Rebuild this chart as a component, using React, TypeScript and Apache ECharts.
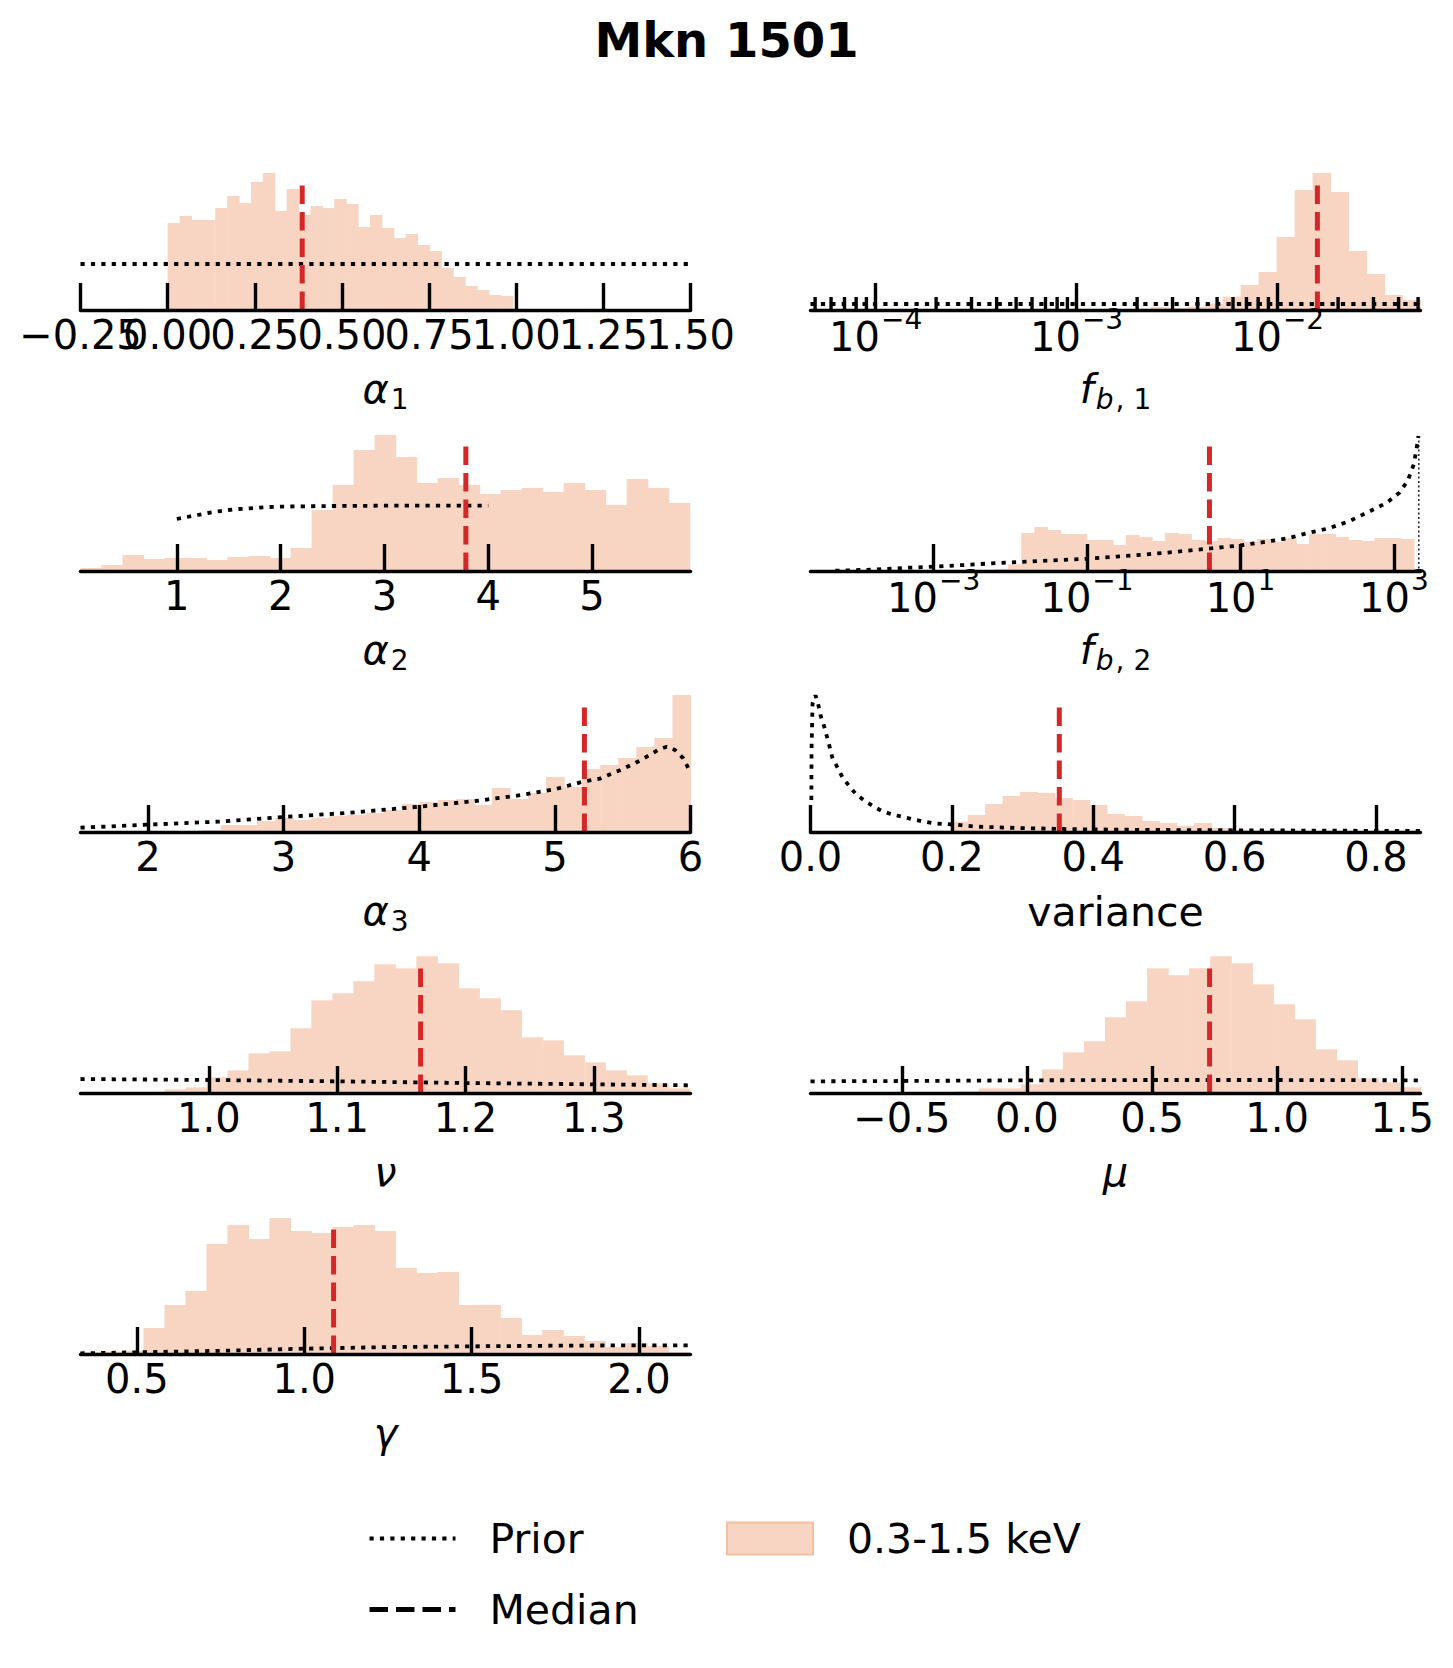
import React, { useEffect, useRef } from "react";
import * as echarts from "echarts";

const FONT = "DejaVu Sans";
const HIST_FILL = "#f8d5c3";
const HIST_EDGE = "#f3bf9f";
const MEDIAN_RED = "#d62728";

// ---------- alpha_1 ----------
const A1_RANGE = [-0.25, 1.5];
const A1_TICKS = [-0.25, 0, 0.25, 0.5, 0.75, 1.0, 1.25, 1.5];
// same tick labels, listed so that no two neighbouring entries overlap
// (ECharts would otherwise drop a label next to the first / last one)
const A1_LABELS = [0.5, -0.25, 0, 0.25, 0.75, 1.25, 1.0, 1.5];
const A1_BIN_RANGE = [0.0, 0.99];
const A1_COUNTS = [261, 282, 270, 270, 306, 342, 321, 384, 411, 297, 363, 285, 312, 306, 333, 318, 249, 285, 246, 216, 228, 195, 177, 126, 99, 72, 60, 45, 42];
const A1_PRIOR = [[-0.25, 138], [1.5, 138]];
const A1_MEDIAN = 0.386;

// ---------- f_b,1 (log10 exponents) ----------
const FB1_RANGE_EXP = [-4.324, -1.289];
const FB1_TICKS = [1e-4, 1e-3, 1e-2];
const FB1_MINOR = [5e-5, 6e-5, 7e-5, 8e-5, 9e-5, 2e-4, 3e-4, 4e-4, 5e-4, 6e-4, 7e-4, 8e-4, 9e-4, 2e-3, 3e-3, 4e-3, 5e-3, 6e-3, 7e-3, 8e-3, 9e-3, 2e-2, 3e-2, 4e-2, 5e-2];
const FB1_BIN_RANGE_EXP = [-2.721, -1.289];
const FB1_COUNTS = [3, 9, 6, 10, 19, 40, 75, 114, 219, 360, 411, 354, 177, 108, 45, 30];
const FB1_PRIOR_EXP = [[-4.324, 18], [-1.289, 18]];
const FB1_MEDIAN_EXP = -1.802;

// ---------- alpha_2 ----------
const A2_RANGE = [0.072, 5.948];
const A2_TICKS = [1, 2, 3, 4, 5];
const A2_BIN_RANGE = [0.072, 5.94];
const A2_COUNTS = [9, 18, 48, 36, 39, 39, 33, 42, 45, 39, 69, 183, 258, 363, 408, 342, 264, 279, 258, 231, 243, 249, 237, 264, 243, 198, 276, 249, 204];
const A2_PRIOR = [[1.0, 156], [1.1, 162], [1.2, 168], [1.3, 174], [1.4, 179], [1.5, 183], [1.6, 186], [1.7, 188], [1.8, 190], [1.9, 192], [2.0, 193], [2.2, 194], [2.5, 195], [3.0, 196], [3.5, 196], [4.0, 196]];
const A2_MEDIAN = 3.784;

// ---------- f_b,2 (log10 exponents) ----------
const FB2_RANGE_EXP = [-4.605, 3.346];
const FB2_TICKS = [1e-3, 1e-1, 1e1, 1e3];
const FB2_BIN_RANGE_EXP = [-2.2, 3.259];
const FB2_COUNTS = [6, 20, 114, 132, 123, 111, 111, 93, 93, 78, 108, 102, 90, 114, 111, 93, 90, 99, 96, 87, 96, 87, 99, 81, 111, 111, 102, 93, 90, 99, 99, 96];
const FB2_PRIOR_EXP = [[-4.281, 1], [-3.795, 4], [-3.308, 10], [-3.0, 13], [-2.605, 18], [-2.173, 24], [-1.632, 30], [-0.995, 37], [-0.551, 44], [-0.011, 54], [0.53, 66], [1.005, 77], [1.341, 88], [1.611, 98], [1.881, 114], [2.151, 128], [2.422, 150], [2.692, 180], [2.908, 205], [3.07, 235], [3.178, 270], [3.259, 320], [3.297, 370], [3.319, 405]];
const FB2_PRIOR_EDGE_EXP = [[3.324, 405], [3.324, 0]];
const FB2_MEDIAN_EXP = 0.595;

// ---------- alpha_3 ----------
const A3_RANGE = [1.503, 6.0];
const A3_TICKS = [2, 3, 4, 5, 6];
const A3_BIN_RANGE = [2.405, 6.0];
const A3_COUNTS = [6, 21, 21, 33, 42, 36, 42, 48, 51, 57, 66, 84, 90, 96, 99, 81, 132, 99, 117, 165, 135, 189, 201, 222, 255, 282, 411];
const A3_PRIOR = [[1.503, 13], [2.0, 22], [2.515, 31], [3.0, 45], [3.496, 58], [4.0, 76], [4.415, 93], [4.721, 109], [5.0, 128], [5.208, 151], [5.331, 160], [5.484, 186], [5.637, 216], [5.76, 246], [5.825, 256], [5.886, 246], [5.947, 221], [5.984, 191], [6.0, 183]];
const A3_MEDIAN = 5.218;

// ---------- variance ----------
const VAR_RANGE = [0.0, 0.863];
const VAR_TICKS = [0.0, 0.2, 0.4, 0.6, 0.8];
const VAR_BIN_RANGE = [0.173, 0.863];
const VAR_COUNTS = [4, 31, 51, 84, 108, 120, 117, 102, 96, 81, 54, 48, 33, 27, 18, 27, 12, 6, 4, 3, 3, 2, 2, 2, 1, 1, 1, 1];
const VAR_PRIOR = [[0.0012, 96], [0.0015, 250], [0.0029, 385], [0.007, 410], [0.0117, 376], [0.0147, 346], [0.0194, 316], [0.0235, 284], [0.0276, 251], [0.0311, 221], [0.0381, 194], [0.0452, 164], [0.054, 140], [0.0633, 116], [0.0751, 96], [0.088, 78], [0.1009, 63], [0.115, 53], [0.129, 46], [0.1443, 38], [0.1584, 32], [0.1736, 26], [0.2053, 22], [0.2346, 16], [0.2933, 12], [0.3812, 8], [0.4985, 6], [0.6158, 5], [0.8504, 3], [0.863, 3]];
const VAR_MEDIAN = 0.352;

// ---------- nu ----------
const NU_RANGE = [0.9, 1.3753];
const NU_TICKS = [1.0, 1.1, 1.2, 1.3];
const NU_BIN_RANGE = [0.9, 1.3743];
const NU_COUNTS = [0, 0, 0, 2, 11, 17, 47, 68, 119, 125, 194, 278, 299, 335, 386, 374, 410, 389, 314, 284, 248, 167, 158, 113, 92, 68, 53, 29, 14];
const NU_PRIOR = [[0.9, 42], [1.0, 39], [1.1, 35], [1.2, 30], [1.3, 26], [1.3753, 23]];
const NU_MEDIAN = 1.165;

// ---------- mu ----------
const MU_RANGE = [-0.865, 1.573];
const MU_TICKS = [-0.5, 0.0, 0.5, 1.0, 1.5];
const MU_BIN_RANGE = [-0.865, 1.573];
const MU_COUNTS = [0, 0, 0, 0, 0, 0, 0, 5, 14, 14, 26, 71, 122, 155, 227, 275, 374, 353, 374, 410, 389, 326, 266, 221, 131, 98, 44, 32, 17];
const MU_PRIOR = [[-0.865, 35], [-0.5, 36], [0.0, 38], [0.5, 39], [1.0, 39], [1.573, 38]];
const MU_MEDIAN = 0.73;

// ---------- gamma ----------
const GAM_RANGE = [0.3314, 2.154];
const GAM_TICKS = [0.5, 1.0, 1.5, 2.0];
const GAM_BIN_RANGE = [0.3314, 2.15];
const GAM_COUNTS = [4, 7, 10, 78, 147, 189, 330, 387, 345, 408, 369, 363, 381, 387, 369, 258, 243, 246, 147, 147, 108, 57, 72, 54, 39, 21, 33, 24, 6];
const GAM_PRIOR = [[0.331, 2], [0.5, 5], [0.765, 10], [1.0, 16], [1.261, 21], [1.5, 23], [1.757, 25], [2.0, 26], [2.154, 26]];
const GAM_MEDIAN = 1.0876;

// ---------- layout ----------
const COL_LEFT = [80.5, 810.5];
const COL_W = 610;
const ROW_AXIS_Y = [310, 571, 832, 1093, 1354];
const PANEL_H = 137;
const Y_MAX = 411;
const MEDIAN_H = 395;

const pow10 = (e: number) => Math.pow(10, e);

function linBins(range: number[], counts: number[]) {
  const w = (range[1] - range[0]) / counts.length;
  return counts.map((c, i) => [range[0] + i * w, range[0] + (i + 1) * w, c]);
}
function logBins(rangeExp: number[], counts: number[]) {
  const w = (rangeExp[1] - rangeExp[0]) / counts.length;
  return counts.map((c, i) => [pow10(rangeExp[0] + i * w), pow10(rangeExp[0] + (i + 1) * w), c]);
}
const expPts = (pts: number[][]) => pts.map((p) => [pow10(p[0]), p[1]]);

const MINUS = "\u2212";
const fmtFixed = (d: number) => (v: number) => (v < 0 ? MINUS : "") + Math.abs(v).toFixed(d);
const fmtLog = (v: number) => {
  const e = Math.round(Math.log10(v));
  return "{b|10}{p|" + (e < 0 ? MINUS : "") + Math.abs(e) + "}";
};

const NAME_RICH: any = {
  i: { fontFamily: FONT, fontStyle: "italic", fontSize: 40, lineHeight: 40, verticalAlign: "top", color: "#000" },
  s: { fontFamily: FONT, fontSize: 28, lineHeight: 28, padding: [16, 0, 0, 2], verticalAlign: "top", color: "#000" },
  si: { fontFamily: FONT, fontStyle: "italic", fontSize: 28, lineHeight: 28, padding: [16, 0, 0, 2], verticalAlign: "top", color: "#000" },
};
const LOG_RICH: any = {
  b: { fontFamily: FONT, fontSize: 40, lineHeight: 52, verticalAlign: "bottom", color: "#000" },
  p: { fontFamily: FONT, fontSize: 28, lineHeight: 28, padding: [0, 0, 0, 1], verticalAlign: "top", color: "#000" },
};

type Panel = {
  col: number; row: number; name: string; log: boolean; min: number; max: number;
  ticks: number[]; labels?: number[]; fmt: (v: number) => string; bins: number[][]; prior: number[][];
  extraPrior?: number[][]; minor?: number[]; median: number;
};

const PANELS: Panel[] = [
  { col: 0, row: 0, name: "{i|α}{s|1}", log: false, min: A1_RANGE[0], max: A1_RANGE[1], ticks: A1_TICKS, labels: A1_LABELS, fmt: fmtFixed(2), bins: linBins(A1_BIN_RANGE, A1_COUNTS), prior: A1_PRIOR, median: A1_MEDIAN },
  { col: 1, row: 0, name: "{i|f}{si|b}{s|, 1}", log: true, min: pow10(FB1_RANGE_EXP[0]), max: pow10(FB1_RANGE_EXP[1]), ticks: FB1_TICKS, fmt: fmtLog, bins: logBins(FB1_BIN_RANGE_EXP, FB1_COUNTS), prior: expPts(FB1_PRIOR_EXP), minor: FB1_MINOR, median: pow10(FB1_MEDIAN_EXP) },
  { col: 0, row: 1, name: "{i|α}{s|2}", log: false, min: A2_RANGE[0], max: A2_RANGE[1], ticks: A2_TICKS, fmt: fmtFixed(0), bins: linBins(A2_BIN_RANGE, A2_COUNTS), prior: A2_PRIOR, median: A2_MEDIAN },
  { col: 1, row: 1, name: "{i|f}{si|b}{s|, 2}", log: true, min: pow10(FB2_RANGE_EXP[0]), max: pow10(FB2_RANGE_EXP[1]), ticks: FB2_TICKS, fmt: fmtLog, bins: logBins(FB2_BIN_RANGE_EXP, FB2_COUNTS), prior: expPts(FB2_PRIOR_EXP), extraPrior: expPts(FB2_PRIOR_EDGE_EXP), median: pow10(FB2_MEDIAN_EXP) },
  { col: 0, row: 2, name: "{i|α}{s|3}", log: false, min: A3_RANGE[0], max: A3_RANGE[1], ticks: A3_TICKS, fmt: fmtFixed(0), bins: linBins(A3_BIN_RANGE, A3_COUNTS), prior: A3_PRIOR, median: A3_MEDIAN },
  { col: 1, row: 2, name: "variance", log: false, min: VAR_RANGE[0], max: VAR_RANGE[1], ticks: VAR_TICKS, fmt: fmtFixed(1), bins: linBins(VAR_BIN_RANGE, VAR_COUNTS), prior: VAR_PRIOR, median: VAR_MEDIAN },
  { col: 0, row: 3, name: "{i|ν}", log: false, min: NU_RANGE[0], max: NU_RANGE[1], ticks: NU_TICKS, fmt: fmtFixed(1), bins: linBins(NU_BIN_RANGE, NU_COUNTS), prior: NU_PRIOR, median: NU_MEDIAN },
  { col: 1, row: 3, name: "{i|μ}", log: false, min: MU_RANGE[0], max: MU_RANGE[1], ticks: MU_TICKS, fmt: fmtFixed(1), bins: linBins(MU_BIN_RANGE, MU_COUNTS), prior: MU_PRIOR, median: MU_MEDIAN },
  { col: 0, row: 4, name: "{i|γ}", log: false, min: GAM_RANGE[0], max: GAM_RANGE[1], ticks: GAM_TICKS, fmt: fmtFixed(1), bins: linBins(GAM_BIN_RANGE, GAM_COUNTS), prior: GAM_PRIOR, median: GAM_MEDIAN },
];

const PRIOR_STYLE = { color: "#000", width: 3.8, type: [4.2, 6.2] as number[], cap: "butt" as const };
const MEDIAN_STYLE = { color: MEDIAN_RED, width: 5, type: [18.5, 8] as number[], cap: "butt" as const };
const AXIS_W = 3.4;

function buildOption() {
  const grid: any[] = [];
  const xAxis: any[] = [];
  const yAxis: any[] = [];
  const series: any[] = [];
  PANELS.forEach((p, i) => {
    const axisY = ROW_AXIS_Y[p.row];
    grid.push({ left: COL_LEFT[p.col], top: axisY - PANEL_H, width: COL_W, height: PANEL_H, containLabel: false, outerBoundsMode: "none" });
    const labelBase: any = {
      show: true,
      customValues: p.labels || p.ticks,
      formatter: p.fmt,
      showMinLabel: true,
      showMaxLabel: true,
      hideOverlap: false,
      margin: p.log ? -5 : 5,
      color: "#000",
      fontSize: 40,
      fontFamily: FONT,
    };
    if (p.log) labelBase.rich = LOG_RICH;
    xAxis.push({
      gridIndex: i,
      type: p.log ? "log" : "value",
      logBase: 10,
      min: p.min,
      max: p.max,
      z: 10,
      axisLine: { show: true, onZero: false, lineStyle: { color: "#000", width: AXIS_W } },
      axisTick: { show: true, inside: true, length: 27, lineStyle: { color: "#000", width: AXIS_W }, customValues: p.ticks },
      minorTick: { show: false },
      splitLine: { show: false },
      axisLabel: labelBase,
      name: p.name,
      nameLocation: "middle",
      nameGap: 59,
      nameMoveOverlap: false,
      nameTextStyle: { color: "#000", fontSize: 41, fontFamily: FONT, rich: NAME_RICH },
    });
    yAxis.push({ gridIndex: i, type: "value", min: 0, max: Y_MAX, show: false });

    series.push({
      type: "custom",
      name: "0.3-1.5 keV",
      xAxisIndex: i,
      yAxisIndex: i,
      silent: true,
      z: 1,
      itemStyle: { color: HIST_FILL },
      encode: { x: [0, 1], y: 2 },
      data: p.bins,
      renderItem: (_params: any, api: any) => {
        const lo = api.value(0);
        const hi = api.value(1);
        const h = api.value(2);
        if (!(h > 0)) return null;
        const a = api.coord([lo, h]);
        const b = api.coord([hi, 0]);
        return {
          type: "rect",
          shape: { x: a[0], y: a[1], width: b[0] - a[0] + 0.6, height: b[1] - a[1] },
          style: { fill: HIST_FILL },
        };
      },
    });
    if (p.minor) {
      series.push({
        type: "custom",
        name: "minor ticks",
        xAxisIndex: i,
        yAxisIndex: i,
        silent: true,
        z: 4,
        encode: { x: 0, y: 1 },
        data: p.minor.map((v) => [v, 0]),
        renderItem: (_params: any, api: any) => {
          const c = api.coord([api.value(0), 0]);
          return { type: "line", shape: { x1: c[0], y1: c[1], x2: c[0], y2: c[1] - 13 }, style: { stroke: "#000", lineWidth: AXIS_W } };
        },
      });
    }
    series.push({
      type: "line",
      name: "Prior",
      xAxisIndex: i,
      yAxisIndex: i,
      silent: true,
      symbol: "none",
      z: 3,
      lineStyle: PRIOR_STYLE,
      data: p.prior,
    });
    if (p.extraPrior) {
      series.push({
        type: "line",
        name: "Prior",
        xAxisIndex: i,
        yAxisIndex: i,
        silent: true,
        symbol: "none",
        z: 3,
        lineStyle: { color: "#000", width: 1.3, type: [2, 2.5] },
        data: p.extraPrior,
      });
    }
    series.push({
      type: "line",
      name: "Median",
      xAxisIndex: i,
      yAxisIndex: i,
      silent: true,
      symbol: "none",
      z: 3,
      lineStyle: MEDIAN_STYLE,
      data: [[p.median, 0], [p.median, MEDIAN_H]],
    });
  });

  const legendText = { color: "#000", fontSize: 41, fontFamily: FONT, padding: [0, 0, 0, 29] };
  const noSymbol = { color: "rgba(0,0,0,0)", borderColor: "rgba(0,0,0,0)", borderWidth: 0, opacity: 0 };
  return {
    animation: false,
    backgroundColor: "#fff",
    textStyle: { fontFamily: FONT },
    title: { text: "Mkn 1501", left: "center", top: 16, padding: 0, textStyle: { fontFamily: FONT, fontWeight: "bold", fontSize: 48, color: "#000" } },
    legend: [
      {
        left: 367, top: 1518, orient: "vertical", padding: 0, itemWidth: 86, itemHeight: 32, itemGap: 30, selectedMode: false,
        textStyle: legendText,
        data: [
          { name: "Prior", lineStyle: { color: "#000", width: 3.8, type: [4.2, 6.2] }, itemStyle: noSymbol },
          { name: "Median", lineStyle: { color: "#000", width: 5, type: [18.5, 8] }, itemStyle: noSymbol },
        ],
      },
      {
        left: 726, top: 1518, orient: "vertical", padding: 0, itemWidth: 86, itemHeight: 32, itemGap: 30, selectedMode: false,
        textStyle: legendText,
        data: [{ name: "0.3-1.5 keV", icon: "rect", itemStyle: { color: HIST_FILL, borderColor: HIST_EDGE, borderWidth: 2 } }],
      },
    ],
    grid,
    xAxis,
    yAxis,
    series,
  };
}

export default function App() {
  const ref = useRef<HTMLDivElement>(null);
  useEffect(() => {
    document.body.style.margin = "0";
    const chart = echarts.init(ref.current as HTMLDivElement, null, { renderer: "svg", width: 1453, height: 1668 });
    chart.setOption(buildOption() as any);
    return () => chart.dispose();
  }, []);
  return <div ref={ref} style={{ width: 1453, height: 1668 }} />;
}
